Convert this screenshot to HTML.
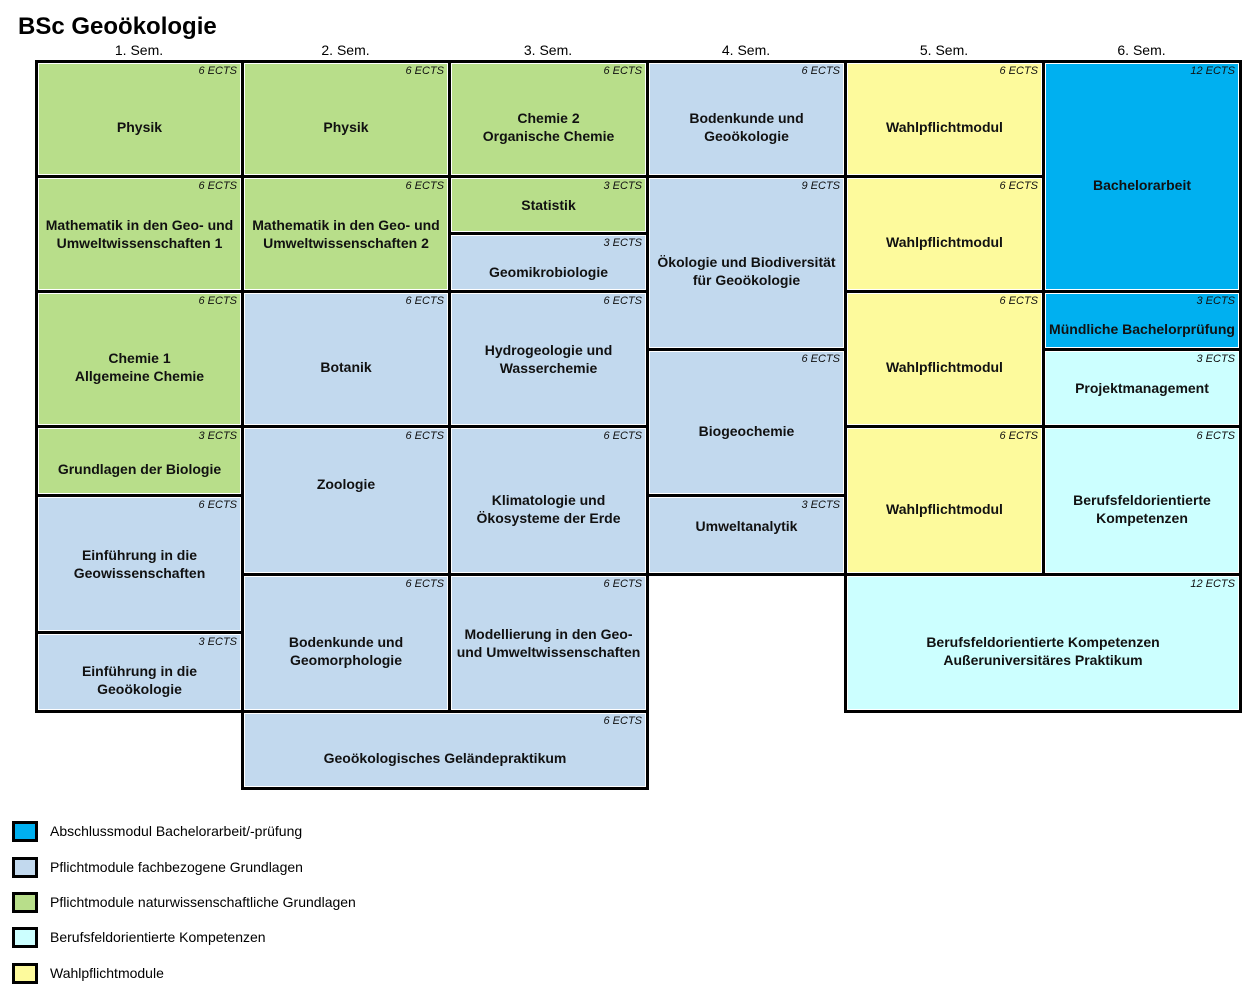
<!DOCTYPE html>
<html><head><meta charset="utf-8">
<style>
body{margin:0;width:1260px;height:994px;background:#fff;position:relative;overflow:hidden;font-family:"Liberation Sans",Arial,sans-serif;}
.b{position:absolute;box-sizing:border-box;border:3px solid #000;box-shadow:inset 0 0 0 1px #fff;display:flex;align-items:center;justify-content:center;text-align:center;font-weight:bold;font-size:14px;line-height:18px;color:#111;padding-top:16px;}
.e{position:absolute;top:2px;right:4px;font-size:11px;font-style:italic;font-weight:normal;line-height:12px;}
.u{margin-top:-16px}
.g{background:#b8de8a}.l{background:#c2d9ee}.y{background:#fdfa9c}.c{background:#ccffff}.d{background:#00b0f0}
.s{position:absolute;top:42px;font-size:14px;text-align:center;}
.lg{position:absolute;left:12px;width:26px;height:21px;box-sizing:border-box;border:3px solid #000;}
.lt{position:absolute;left:50px;font-size:14px;}
</style></head><body>
<div style="position:absolute;left:18px;top:13px;font-size:24px;font-weight:bold;">BSc Geoökologie</div>
<div class="s" style="left:36px;width:206px">1. Sem.</div>
<div class="s" style="left:242px;width:207px">2. Sem.</div>
<div class="s" style="left:449px;width:198px">3. Sem.</div>
<div class="s" style="left:647px;width:198px">4. Sem.</div>
<div class="s" style="left:845px;width:198px">5. Sem.</div>
<div class="s" style="left:1043px;width:197px">6. Sem.</div>

<!-- col1 -->
<div class="b g" style="left:35px;top:60px;width:209px;height:118px"><span class="e">6 ECTS</span>Physik</div>
<div class="b g" style="left:35px;top:175px;width:209px;height:118px"><span class="e">6 ECTS</span><span class="u">Mathematik in den Geo- und<br>Umweltwissenschaften 1</span></div>
<div class="b g" style="left:35px;top:290px;width:209px;height:138px"><span class="e">6 ECTS</span>Chemie 1<br>Allgemeine Chemie</div>
<div class="b g" style="left:35px;top:425px;width:209px;height:72px"><span class="e">3 ECTS</span>Grundlagen der Biologie</div>
<div class="b l" style="left:35px;top:494px;width:209px;height:140px"><span class="e">6 ECTS</span><span class="u">Einführung in die<br>Geowissenschaften</span></div>
<div class="b l" style="left:35px;top:631px;width:209px;height:82px"><span class="e">3 ECTS</span>Einführung in die<br>Geoökologie</div>
<!-- col2 -->
<div class="b g" style="left:241px;top:60px;width:210px;height:118px"><span class="e">6 ECTS</span>Physik</div>
<div class="b g" style="left:241px;top:175px;width:210px;height:118px"><span class="e">6 ECTS</span><span class="u">Mathematik in den Geo- und<br>Umweltwissenschaften 2</span></div>
<div class="b l" style="left:241px;top:290px;width:210px;height:138px"><span class="e">6 ECTS</span>Botanik</div>
<div class="b l" style="left:241px;top:425px;width:210px;height:151px"><span class="e">6 ECTS</span><span style="margin-top:-50px">Zoologie</span></div>
<div class="b l" style="left:241px;top:573px;width:210px;height:140px"><span class="e">6 ECTS</span>Bodenkunde und<br>Geomorphologie</div>
<!-- col3 -->
<div class="b g" style="left:448px;top:60px;width:201px;height:118px"><span class="e">6 ECTS</span>Chemie 2<br>Organische Chemie</div>
<div class="b g" style="left:448px;top:175px;width:201px;height:60px"><span class="e">3 ECTS</span><span class="u">Statistik</span></div>
<div class="b l" style="left:448px;top:232px;width:201px;height:61px"><span class="e">3 ECTS</span><span style="margin-top:2px">Geomikrobiologie</span></div>
<div class="b l" style="left:448px;top:290px;width:201px;height:138px"><span class="e">6 ECTS</span><span class="u">Hydrogeologie und<br>Wasserchemie</span></div>
<div class="b l" style="left:448px;top:425px;width:201px;height:151px"><span class="e">6 ECTS</span>Klimatologie und<br>Ökosysteme der Erde</div>
<div class="b l" style="left:448px;top:573px;width:201px;height:140px"><span class="e">6 ECTS</span><span class="u">Modellierung in den Geo-<br>und Umweltwissenschaften</span></div>
<div class="b l" style="left:241px;top:710px;width:408px;height:80px"><span class="e">6 ECTS</span>Geoökologisches Geländepraktikum</div>
<!-- col4 -->
<div class="b l" style="left:646px;top:60px;width:201px;height:118px"><span class="e">6 ECTS</span>Bodenkunde und<br>Geoökologie</div>
<div class="b l" style="left:646px;top:175px;width:201px;height:176px"><span class="e">9 ECTS</span>Ökologie und Biodiversität<br>für Geoökologie</div>
<div class="b l" style="left:646px;top:348px;width:201px;height:149px"><span class="e">6 ECTS</span>Biogeochemie</div>
<div class="b l" style="left:646px;top:494px;width:201px;height:82px"><span class="e">3 ECTS</span><span style="margin-top:-34px">Umweltanalytik</span></div>
<!-- col5 -->
<div class="b y" style="left:844px;top:60px;width:201px;height:118px"><span class="e">6 ECTS</span>Wahlpflichtmodul</div>
<div class="b y" style="left:844px;top:175px;width:201px;height:118px"><span class="e">6 ECTS</span>Wahlpflichtmodul</div>
<div class="b y" style="left:844px;top:290px;width:201px;height:138px"><span class="e">6 ECTS</span>Wahlpflichtmodul</div>
<div class="b y" style="left:844px;top:425px;width:201px;height:151px"><span class="e">6 ECTS</span>Wahlpflichtmodul</div>
<!-- col6 -->
<div class="b d" style="left:1042px;top:60px;width:200px;height:233px"><span class="e">12 ECTS</span>Bachelorarbeit</div>
<div class="b d" style="left:1042px;top:290px;width:200px;height:61px"><span class="e">3 ECTS</span>Mündliche Bachelorprüfung</div>
<div class="b c" style="left:1042px;top:348px;width:200px;height:80px"><span class="e">3 ECTS</span><span class="u">Projektmanagement</span></div>
<div class="b c" style="left:1042px;top:425px;width:200px;height:151px"><span class="e">6 ECTS</span>Berufsfeldorientierte<br>Kompetenzen</div>
<div class="b c" style="left:844px;top:573px;width:398px;height:140px"><span class="e">12 ECTS</span>Berufsfeldorientierte Kompetenzen<br>Außeruniversitäres Praktikum</div>

<!-- legend -->
<div class="lg d" style="top:821px"></div><div class="lt" style="top:823px">Abschlussmodul Bachelorarbeit/-prüfung</div>
<div class="lg l" style="top:857px"></div><div class="lt" style="top:859px">Pflichtmodule fachbezogene Grundlagen</div>
<div class="lg g" style="top:892px"></div><div class="lt" style="top:894px">Pflichtmodule naturwissenschaftliche Grundlagen</div>
<div class="lg c" style="top:927px"></div><div class="lt" style="top:929px">Berufsfeldorientierte Kompetenzen</div>
<div class="lg y" style="top:963px"></div><div class="lt" style="top:965px">Wahlpflichtmodule</div>
</body></html>
